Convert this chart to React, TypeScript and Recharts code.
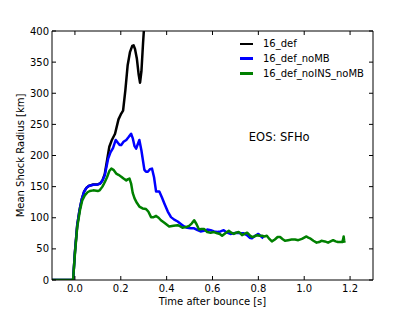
import React from 'react';
import {
  LineChart,
  Line,
  XAxis,
  YAxis,
  Legend,
  ReferenceDot,
} from 'recharts';

// [time after bounce (s), mean shock radius (km)]
const series16Def: [number, number][] = [
  [-0.1, 0], [-0.008, 0], [0.0, 45], [0.01, 88], [0.02, 112], [0.03, 130], [0.04, 142],
  [0.05, 148], [0.06, 151], [0.08, 153.5], [0.1, 153.5], [0.11, 155], [0.12, 160],
  [0.13, 170], [0.14, 192], [0.15, 214], [0.16, 224], [0.175, 235], [0.19, 258],
  [0.2, 266], [0.21, 272], [0.22, 305], [0.23, 345], [0.24, 366], [0.25, 376],
  [0.256, 377], [0.262, 371], [0.27, 356], [0.278, 330], [0.284, 317], [0.29, 335],
  [0.297, 380], [0.305, 425], [0.315, 470],
];

const series16DefNoMB: [number, number][] = [
  [-0.1, 0], [-0.008, 0], [0.0, 45], [0.01, 88], [0.02, 112], [0.03, 130], [0.04, 142],
  [0.05, 148], [0.06, 151], [0.08, 153], [0.1, 153.5], [0.11, 155], [0.12, 160],
  [0.13, 168], [0.145, 195], [0.155, 205], [0.166, 212], [0.178, 225], [0.188, 220],
  [0.195, 217], [0.202, 217], [0.212, 222], [0.224, 225], [0.235, 230], [0.245, 235],
  [0.252, 228], [0.26, 215], [0.267, 211], [0.274, 218], [0.281, 225], [0.29, 208],
  [0.303, 177], [0.31, 174], [0.318, 174], [0.327, 178], [0.336, 179], [0.345, 165],
  [0.354, 142], [0.368, 142], [0.38, 132], [0.39, 123], [0.405, 110], [0.419, 101],
  [0.433, 97], [0.448, 94], [0.462, 90], [0.476, 86], [0.49, 84], [0.505, 83],
  [0.52, 83], [0.535, 80], [0.548, 78], [0.562, 79], [0.577, 81], [0.592, 80],
  [0.607, 78], [0.621, 77], [0.635, 78], [0.649, 80], [0.664, 76], [0.678, 74],
  [0.693, 75], [0.707, 76], [0.722, 75], [0.736, 75], [0.75, 72], [0.762, 68],
  [0.772, 67], [0.786, 71], [0.8, 74], [0.812, 70], [0.822, 67],
];

const series16DefNoINSNoMB: [number, number][] = [
  [-0.1, 0], [-0.008, 0], [0.0, 42], [0.01, 85], [0.022, 112], [0.032, 128], [0.043, 136],
  [0.055, 141], [0.065, 143], [0.08, 144], [0.1, 143], [0.108, 144], [0.12, 150],
  [0.13, 157], [0.14, 165], [0.15, 175], [0.159, 179], [0.168, 177], [0.18, 171],
  [0.19, 169], [0.202, 166], [0.212, 163], [0.224, 160], [0.232, 162], [0.238, 163],
  [0.245, 155], [0.252, 140], [0.26, 131], [0.27, 124], [0.281, 118], [0.295, 115],
  [0.31, 114], [0.32, 110], [0.332, 101], [0.343, 101], [0.354, 103], [0.365, 100],
  [0.375, 96], [0.39, 92], [0.411, 86], [0.43, 87], [0.448, 88], [0.46, 86],
  [0.469, 84], [0.484, 85], [0.498, 87], [0.51, 91], [0.52, 96], [0.53, 90],
  [0.541, 81], [0.552, 82], [0.563, 82], [0.577, 77], [0.592, 76], [0.606, 77],
  [0.621, 75], [0.632, 74], [0.642, 71], [0.656, 75], [0.671, 79], [0.682, 76],
  [0.693, 74], [0.703, 76], [0.714, 77], [0.722, 75], [0.729, 72], [0.74, 74],
  [0.751, 76], [0.762, 72], [0.772, 69], [0.783, 70], [0.794, 72], [0.805, 71],
  [0.816, 71], [0.826, 70], [0.837, 71], [0.848, 66], [0.859, 62], [0.872, 65],
  [0.884, 69], [0.895, 69], [0.905, 66], [0.916, 63], [0.93, 64], [0.945, 65],
  [0.96, 65], [0.974, 64], [0.99, 66], [1.01, 70], [1.018, 68], [1.025, 67],
  [1.04, 63], [1.054, 60], [1.065, 61], [1.075, 63], [1.09, 62], [1.104, 60],
  [1.115, 62], [1.126, 64], [1.137, 62], [1.147, 61], [1.158, 61], [1.166, 61],
  [1.17, 66], [1.172, 70], [1.174, 64], [1.176, 60],
];

const seriesNames = ['16_def', '16_def_noMB', '16_def_noINS_noMB'];
const seriesColors = ['#000000', '#0000ff', '#008000'];
const xTicks = [0, 0.2, 0.4, 0.6, 0.8, 1.0, 1.2];
const yTicks = [0, 50, 100, 150, 200, 250, 300, 350, 400];
const xDomain: [number, number] = [-0.1, 1.3];
const yDomain: [number, number] = [0, 400];

const toPoints = (s: [number, number][]) => s.map(([t, r]) => ({ t, r }));
const allSeries = [series16Def, series16DefNoMB, series16DefNoINSNoMB];

const FONT = 'DejaVu Sans';

const LegendContent = (props: any) => {
  const payload = (props.payload || [])
    .filter((p: any) => seriesNames.includes(p.value))
    .sort((a: any, b: any) => seriesNames.indexOf(a.value) - seriesNames.indexOf(b.value));
  return (
    <div style={{ fontFamily: FONT, fontSize: 10, color: '#000' }}>
      {payload.map((p: any) => (
        <div key={p.value} style={{ display: 'flex', alignItems: 'center', height: 14.7 }}>
          <div style={{ width: 13, height: 2.5, background: p.color, marginLeft: 2, marginRight: 10 }} />
          <span style={{ whiteSpace: 'nowrap' }}>{p.value}</span>
        </div>
      ))}
    </div>
  );
};

const NoTick = () => <g />;

export default function App() {
  return (
    <div style={{ position: 'absolute', left: 0, top: 0, fontFamily: FONT, background: '#fff' }}>
      <LineChart
        width={415}
        height={312}
        margin={{ top: 30, right: 41, bottom: 0, left: 0 }}
        style={{ fontFamily: FONT }}
      >
        <XAxis
          dataKey="t"
          type="number"
          domain={xDomain}
          ticks={xTicks}
          allowDataOverflow
          height={32}
          tickSize={-4}
          tickMargin={9}
          interval={0}
          tickFormatter={(v: number) => v.toFixed(1)}
          axisLine={{ stroke: '#000' }}
          tickLine={{ stroke: '#000' }}
          tick={{ fill: '#000', fontSize: 10 }}
          label={{ value: 'Time after bounce [s]', position: 'insideBottom', offset: 7, fill: '#000', fontSize: 10 }}
        />
        <XAxis
          xAxisId="top"
          dataKey="t"
          orientation="top"
          type="number"
          domain={xDomain}
          ticks={xTicks}
          allowDataOverflow
          height={1}
          tickSize={-4}
          interval={0}
          axisLine={{ stroke: '#000' }}
          tickLine={{ stroke: '#000' }}
          tick={NoTick}
        />
        <YAxis
          type="number"
          domain={yDomain}
          ticks={yTicks}
          allowDataOverflow
          width={52}
          tickSize={-4}
          tickMargin={7}
          interval={0}
          axisLine={{ stroke: '#000' }}
          tickLine={{ stroke: '#000' }}
          tick={{ fill: '#000', fontSize: 10 }}
          label={{ value: 'Mean Shock Radius [km]', angle: -90, position: 'center', dx: -5.3, fill: '#000', fontSize: 10 }}
        />
        <YAxis
          yAxisId="right"
          orientation="right"
          type="number"
          domain={yDomain}
          ticks={yTicks}
          allowDataOverflow
          width={1}
          tickSize={-4}
          interval={0}
          axisLine={{ stroke: '#000' }}
          tickLine={{ stroke: '#000' }}
          tick={NoTick}
        />
        {allSeries.map((s, i) => (
          <Line
            key={seriesNames[i]}
            data={toPoints(s)}
            dataKey="r"
            name={seriesNames[i]}
            type="linear"
            stroke={seriesColors[i]}
            strokeWidth={2.5}
            strokeLinejoin="round"
            dot={false}
            activeDot={false}
            isAnimationActive={false}
          />
        ))}
        <Line
          data={toPoints(series16DefNoINSNoMB)}
          dataKey="r"
          name="frame"
          xAxisId="top"
          yAxisId="right"
          stroke="none"
          strokeWidth={0}
          dot={false}
          activeDot={false}
          legendType="none"
          isAnimationActive={false}
        />
        <ReferenceDot
          x={0.891}
          y={229.7}
          r={0}
          stroke="none"
          fill="none"
          label={{ value: 'EOS: SFHo', position: 'center', fill: '#000', fontSize: 11.5 }}
        />
        <Legend
          layout="vertical"
          align="center"
          verticalAlign="middle"
          content={LegendContent}
          wrapperStyle={{ left: 238, top: 36.6, width: 150 }}
        />
      </LineChart>
    </div>
  );
}
